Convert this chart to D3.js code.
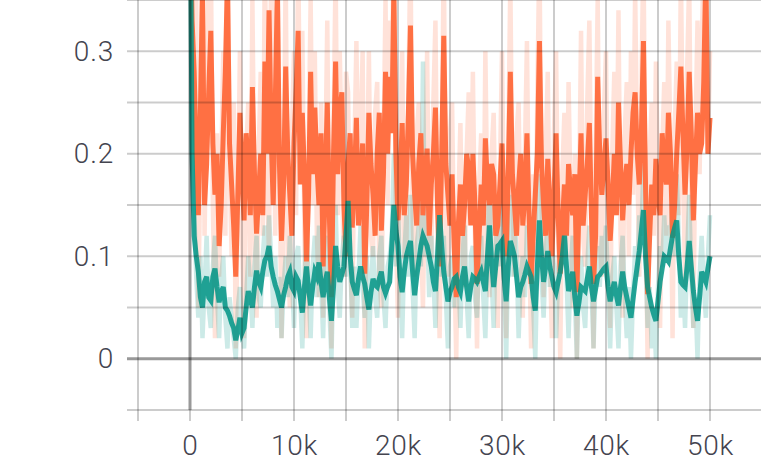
<!DOCTYPE html>
<html><head><meta charset="utf-8">
<script src="https://cdn.jsdelivr.net/npm/d3@7"></script>
<style>body{margin:0;background:#fff}svg{display:block}</style>
</head><body>
<svg id="c" width="761" height="461"></svg>
<script>
// steps (x values), one every 200 steps from 0 to 50k
const steps = d3.range(0, 50001, 200);

// orange run: smoothed values
const orangeSmoothed = [
0.45,0.33,0.28,0.2,0.14,0.24,0.36,0.15,0.19,0.26,0.32,0.21,0.16,0.2,0.11,0.15,0.22,0.28,0.37,0.21,
0.17,0.13,0.08,0.16,0.24,0.18,0.135,0.22,0.19,0.14,0.265,0.18,0.122,0.16,0.2,0.14,0.29,0.2,0.34,0.22,
0.15,0.25,0.36,0.19,0.115,0.17,0.285,0.2,0.16,0.12,0.21,0.26,0.32,0.17,0.24,0.18,0.095,0.16,0.28,0.18,
0.245,0.19,0.15,0.22,0.09,0.17,0.25,0.14,0.06,0.2,0.29,0.18,0.24,0.26,0.15,0.1,0.19,0.22,0.128,0.17,
0.235,0.13,0.17,0.21,0.083,0.15,0.24,0.19,0.16,0.12,0.2,0.24,0.125,0.18,0.28,0.2,0.275,0.22,0.36,0.2,
0.135,0.17,0.23,0.14,0.17,0.24,0.325,0.2,0.16,0.13,0.19,0.22,0.14,0.18,0.205,0.12,0.17,0.2,0.245,0.15,
0.09,0.2,0.315,0.19,0.16,0.13,0.18,0.11,0.06,0.13,0.17,0.12,0.15,0.2,0.185,0.13,0.2,0.15,0.073,0.12,
0.17,0.13,0.215,0.17,0.15,0.19,0.18,0.12,0.13,0.17,0.21,0.15,0.1,0.18,0.28,0.18,0.15,0.12,0.17,0.2,
0.13,0.16,0.22,0.14,0.073,0.12,0.16,0.2,0.31,0.19,0.15,0.12,0.195,0.15,0.1,0.16,0.22,0.14,0.083,0.13,
0.17,0.12,0.19,0.16,0.14,0.18,0.065,0.15,0.22,0.13,0.16,0.19,0.23,0.14,0.073,0.12,0.275,0.2,0.16,0.19,
0.215,0.17,0.115,0.15,0.2,0.14,0.25,0.19,0.135,0.17,0.19,0.15,0.2,0.24,0.26,0.2,0.17,0.22,0.31,0.17,
0.063,0.12,0.17,0.14,0.195,0.16,0.14,0.22,0.19,0.17,0.24,0.2,0.118,0.15,0.2,0.24,0.285,0.22,0.16,0.21,
0.28,0.22,0.135,0.19,0.24,0.2,0.21,0.27,0.38,0.2,0.235];

// orange run: raw values
const orangeRaw = [
0.5,0.3,0.2,0.35,0.05,0.2,0.45,0.12,0.25,0.38,0.4,0.15,0.02,0.22,0.08,0.18,0.3,0.12,0.45,0.2,
0.1,0.25,0.01,0.15,0.3,0.12,0.02,0.2,0.25,0.08,0.35,0.15,0.04,0.2,0.28,0.12,0.4,0.18,0.1,0.38,
0.3,0.12,0.45,0.2,0.02,0.16,0.38,0.1,0.05,0.22,0.3,0.14,0.4,0.2,0.32,0.12,0.02,0.2,0.35,0.15,
0.3,0.12,0.06,0.25,0.04,0.18,0.33,0.1,0.01,0.22,0.38,0.14,0.3,0.2,0.08,0.28,0.26,0.1,0.04,0.2,
0.31,0.15,0.22,0.3,0.01,0.16,0.3,0.12,0.1,0.24,0.27,0.08,0.05,0.2,0.35,0.15,0.33,0.22,0.45,0.12,
0.04,0.2,0.3,0.1,0.1,0.26,0.4,0.14,0.08,0.22,0.25,0.12,0.05,0.18,0.3,0.1,0.1,0.25,0.33,0.12,
0.02,0.18,0.4,0.12,0.08,0.22,0.25,0.1,0.0,0.15,0.23,0.1,0.07,0.2,0.26,0.14,0.28,0.12,0.01,0.17,
0.22,0.08,0.3,0.14,0.06,0.2,0.24,0.1,0.03,0.18,0.3,0.12,0.02,0.2,0.37,0.16,0.08,0.22,0.25,0.1,
0.04,0.2,0.31,0.12,0.01,0.18,0.1,0.26,0.4,0.15,0.06,0.2,0.28,0.1,0.02,0.22,0.3,0.12,0.0,0.18,
0.24,0.1,0.27,0.15,0.05,0.2,0.0,0.14,0.32,0.12,0.09,0.25,0.33,0.14,0.01,0.2,0.35,0.12,0.08,0.24,
0.3,0.1,0.03,0.2,0.28,0.14,0.34,0.12,0.04,0.22,0.27,0.1,0.3,0.16,0.36,0.2,0.08,0.26,0.4,0.15,
0.0,0.2,0.25,0.12,0.29,0.18,0.03,0.2,0.27,0.12,0.33,0.2,0.02,0.22,0.29,0.14,0.38,0.2,0.07,0.28,
0.37,0.15,0.03,0.22,0.33,0.18,0.3,0.4,0.45,0.2,0.3];

// teal run: smoothed values
const tealSmoothed = [
0.5,0.2,0.12,0.1,0.085,0.06,0.05,0.075,0.08,0.06,0.057,0.08,0.088,0.07,0.055,0.065,0.07,0.05,0.047,0.042,
0.035,0.03,0.018,0.028,0.04,0.025,0.03,0.05,0.066,0.058,0.05,0.07,0.086,0.075,0.07,0.085,0.096,0.1,0.11,0.09,
0.08,0.072,0.066,0.058,0.05,0.062,0.07,0.08,0.085,0.07,0.066,0.08,0.076,0.06,0.045,0.07,0.09,0.068,0.052,0.07,
0.085,0.08,0.094,0.075,0.06,0.075,0.085,0.06,0.037,0.07,0.11,0.09,0.075,0.082,0.09,0.12,0.154,0.1,0.075,0.068,
0.062,0.078,0.09,0.08,0.073,0.06,0.048,0.065,0.078,0.072,0.07,0.078,0.085,0.07,0.064,0.07,0.075,0.11,0.15,0.125,
0.11,0.08,0.065,0.085,0.1,0.108,0.115,0.085,0.062,0.08,0.095,0.11,0.12,0.115,0.11,0.1,0.09,0.075,0.066,0.1,
0.14,0.11,0.085,0.07,0.056,0.065,0.07,0.078,0.08,0.07,0.065,0.08,0.09,0.07,0.056,0.07,0.08,0.078,0.075,0.08,
0.085,0.075,0.066,0.1,0.13,0.095,0.07,0.09,0.11,0.112,0.115,0.08,0.056,0.09,0.115,0.108,0.1,0.08,0.06,0.07,
0.075,0.082,0.09,0.085,0.08,0.06,0.047,0.09,0.135,0.1,0.075,0.09,0.105,0.09,0.08,0.07,0.065,0.075,0.085,0.1,
0.12,0.09,0.066,0.075,0.085,0.06,0.042,0.055,0.07,0.068,0.066,0.078,0.09,0.07,0.056,0.068,0.08,0.082,0.085,0.088,
0.09,0.07,0.056,0.066,0.075,0.062,0.052,0.07,0.085,0.07,0.06,0.05,0.04,0.058,0.075,0.09,0.105,0.125,0.145,0.1,
0.07,0.06,0.05,0.043,0.037,0.056,0.075,0.088,0.1,0.098,0.095,0.108,0.12,0.128,0.135,0.1,0.075,0.072,0.07,0.09,
0.115,0.09,0.066,0.05,0.037,0.06,0.085,0.08,0.075,0.088,0.1];

// teal run: raw values
const tealRaw = [
0.55,0.3,0.15,0.08,0.04,0.1,0.02,0.07,0.12,0.05,0.03,0.09,0.12,0.06,0.02,0.08,0.1,0.04,0.01,0.06,
0.04,0.02,0.0,0.05,0.07,0.03,0.01,0.06,0.1,0.07,0.03,0.09,0.12,0.06,0.05,0.1,0.13,0.08,0.14,0.1,
0.05,0.1,0.03,0.08,0.02,0.07,0.1,0.06,0.12,0.08,0.03,0.1,0.11,0.06,0.01,0.08,0.13,0.07,0.02,0.09,
0.12,0.06,0.13,0.08,0.02,0.1,0.12,0.05,0.0,0.09,0.15,0.07,0.04,0.1,0.12,0.08,0.2,0.1,0.03,0.09,
0.03,0.08,0.13,0.07,0.04,0.1,0.01,0.07,0.11,0.06,0.04,0.1,0.12,0.06,0.03,0.09,0.1,0.12,0.2,0.09,
0.15,0.08,0.02,0.1,0.14,0.08,0.16,0.07,0.02,0.11,0.13,0.09,0.29,0.1,0.13,0.06,0.12,0.08,0.03,0.1,
0.19,0.08,0.12,0.06,0.01,0.09,0.1,0.05,0.12,0.08,0.03,0.1,0.13,0.06,0.02,0.1,0.11,0.06,0.04,0.1,
0.12,0.06,0.02,0.1,0.18,0.08,0.03,0.11,0.15,0.09,0.16,0.08,0.0,0.1,0.16,0.08,0.14,0.1,0.02,0.08,
0.1,0.06,0.13,0.1,0.11,0.05,0.0,0.09,0.18,0.08,0.04,0.1,0.14,0.07,0.11,0.09,0.02,0.08,0.12,0.1,
0.16,0.08,0.02,0.09,0.12,0.06,0.0,0.08,0.1,0.05,0.03,0.09,0.13,0.07,0.01,0.08,0.11,0.07,0.12,0.09,
0.13,0.07,0.01,0.08,0.1,0.05,0.01,0.09,0.12,0.06,0.02,0.07,0.0,0.06,0.11,0.08,0.14,0.12,0.19,0.1,
0.03,0.07,0.01,0.05,0.0,0.07,0.11,0.09,0.14,0.1,0.13,0.12,0.16,0.1,0.18,0.12,0.04,0.08,0.03,0.1,
0.16,0.08,0.03,0.06,0.0,0.08,0.12,0.07,0.04,0.1,0.14];

const xTicks = [-5000,0,5000,10000,15000,20000,25000,30000,35000,40000,45000,50000,55000];
const xTickLabels = {0:"0",10000:"10k",20000:"20k",30000:"30k",40000:"40k",50000:"50k"};
const yTicks = [-0.05,0,0.05,0.1,0.15,0.2,0.25,0.3,0.35];
const yTickLabels = {"0":"0","0.1":"0.1","0.2":"0.2","0.3":"0.3"};

const svg = d3.select("#c");
const x = d3.scaleLinear().domain([-5000, 55000]).range([138, 762]);
const y = d3.scaleLinear().domain([-0.05, 0.35]).range([410, 0]);

svg.append("defs").append("clipPath").attr("id","clip")
  .append("rect").attr("x",138).attr("y",0).attr("width",623).attr("height",410);

const plot = svg.append("g").attr("clip-path","url(#clip)");
const line = d3.line().x((d,i)=>x(steps[i])).y(d=>y(d));

function draw(vals, color, op, w){
  const n = Math.min(vals.length, steps.length);
  plot.append("path").datum(vals.slice(0, n))
    .attr("d", line).attr("fill","none").attr("stroke",color)
    .attr("stroke-width",w).attr("stroke-opacity",op);
}
draw(orangeRaw, "#ff7043", 0.2, 4.5);
draw(tealRaw, "#009688", 0.2, 4.5);
draw(orangeSmoothed, "#ff7043", 1, 5);
draw(tealSmoothed, "#009485", 0.85, 5);

// grid on top
const grid = svg.append("g");
xTicks.forEach(t=>{
  const zero = t===0;
  grid.append("line").attr("x1",x(t)).attr("x2",x(t)).attr("y1",0).attr("y2", zero?410:421)
    .attr("stroke", zero? "rgba(0,0,0,0.4)":"rgba(0,0,0,0.2)").attr("stroke-width", zero?3:2);
});
yTicks.forEach(t=>{
  const zero = Math.abs(t)<1e-9;
  grid.append("line").attr("x1",127).attr("x2",762).attr("y1",y(t)).attr("y2",y(t))
    .attr("stroke", zero? "rgba(0,0,0,0.4)":"rgba(0,0,0,0.2)").attr("stroke-width", zero?3:2);
});
grid.append("line").attr("x1",x(0)).attr("x2",x(0)).attr("y1",410).attr("y2",421)
  .attr("stroke","rgba(0,0,0,0.2)").attr("stroke-width",2);

const font = "Roboto, 'Noto Sans', sans-serif";
const xAxis = d3.axisBottom(x).tickValues(Object.keys(xTickLabels).map(Number))
  .tickFormat(d=>xTickLabels[d]).tickSize(0).tickPadding(0);
const gx = svg.append("g").attr("transform","translate(0,435)").call(xAxis);
gx.select(".domain").remove();
gx.selectAll("text").attr("font-family",font).attr("font-weight",300).attr("font-size",28)
  .attr("fill","#44444f").attr("letter-spacing","0.8px").attr("dy","0.71em");

const yAxis = d3.axisLeft(y).tickValues([0,0.1,0.2,0.3])
  .tickFormat(d=>yTickLabels[String(+d.toFixed(2))]).tickSize(0).tickPadding(0);
const gy = svg.append("g").attr("transform","translate(114,0)").call(yAxis);
gy.select(".domain").remove();
gy.selectAll("text").attr("font-family",font).attr("font-weight",300).attr("font-size",28)
  .attr("fill","#44444f").attr("letter-spacing","0.8px");
</script>
</body></html>
